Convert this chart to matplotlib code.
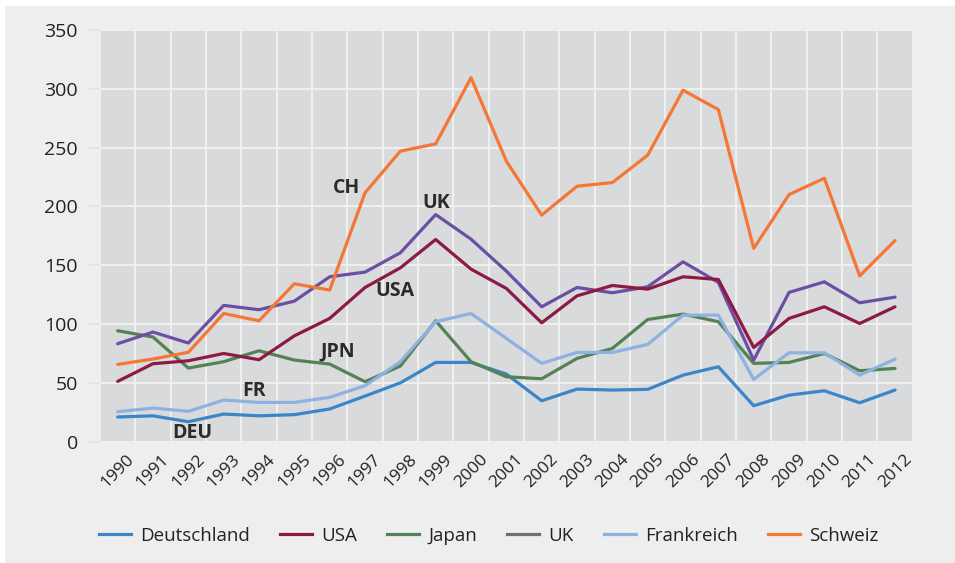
import matplotlib
matplotlib.use('Agg')
import matplotlib.pyplot as plt
from matplotlib.lines import Line2D
from matplotlib.patches import Rectangle
import numpy as np

plt.rcParams['font.family'] = ['Open Sans', 'DejaVu Sans']

jahre = [str(j) for j in range(1990, 2013)]

deutschland = [21, 22, 17, 23.5, 22, 23, 27.8, 38.8, 50, 67.4, 67.4, 57.5, 34.8, 44.7, 43.9,
               44.5, 56.6, 63.7, 30.6, 39.6, 43.3, 33.1, 43.9]
usa = [51.3, 66.3, 68.8, 75, 69.7, 90, 104.8, 131.1, 147.8, 171.9, 146.7, 130.3, 101.1, 124, 132.8,
       129.7, 140.2, 137.9, 80.1, 104.8, 114.7, 100.5, 114.7]
japan = [94.3, 89, 62.6, 68, 77.3, 69.4, 66, 51, 64.3, 102.8, 68, 55.2, 53.5, 70.8, 79.3,
         103.9, 108.5, 102, 66.6, 67.4, 75, 60.3, 62.3]
uk = [83.3, 93.2, 83.9, 115.9, 112.2, 119.5, 140.2, 144.2, 160.6, 193.1, 172.2, 145, 114.7, 131.1, 126.6,
      131.7, 152.9, 135.4, 69.4, 126.9, 135.9, 118.1, 122.9]
frankreich = [25.5, 28.6, 25.8, 35.4, 33.4, 33.4, 37.7, 47.6, 68, 102, 109, 87.8, 66.6, 75.9, 75.9,
              82.7, 107.6, 107.6, 53, 75.6, 75.6, 56.6, 70.2]
schweiz = [65.7, 70.3, 76, 109, 102.8, 134.3, 128.9, 211.6, 247, 253.2, 309.5, 238.5, 192.6, 217.2, 220.3,
           243.6, 298.8, 282.4, 164.3, 210.1, 224, 141, 171]

namen = ['Deutschland', 'USA', 'Japan', 'UK', 'Frankreich', 'Schweiz']
reihen = [deutschland, usa, japan, uk, frankreich, schweiz]
farben = ['#3a86c8', '#8c1a45', '#548255', '#6c4fa3', '#8db2e2', '#f47735']
legendenfarben = ['#3a86c8', '#8c1a45', '#548255', '#707070', '#8db2e2', '#f47735']
zeichnungsfolge = [1, 5, 2, 3, 4, 6]

# Kurzlabels im Diagramm (x-Index, Wert)
kurz = ['CH', 'UK', 'USA', 'JPN', 'FR', 'DEU']
kurz_x = [6.47, 9.03, 7.84, 6.23, 3.85, 2.1]
kurz_y = [215.5, 202.6, 127.9, 77, 43.5, 7.5]

fig = plt.figure(figsize=(9.55, 5.63), dpi=100, facecolor='white')
fig.patches.append(Rectangle((5 / 955, 0), 1, 1 - 6 / 563, transform=fig.transFigure,
                             facecolor='#eeeeee', edgecolor='none', zorder=-5))
ax = fig.add_axes([100 / 955, 1 - 441.7 / 563, 812.7 / 955, 411.7 / 563])
ax.set_facecolor('#d9dadc')

x = np.arange(len(jahre))
for name, werte, farbe, z in zip(namen, reihen, farben, zeichnungsfolge):
    ax.plot(x, werte, color=farbe, lw=2.3, zorder=3 + z * 0.1, solid_capstyle='round')

for t, tx, ty in zip(kurz, kurz_x, kurz_y):
    ax.text(tx, ty, t, fontsize=14, fontweight='bold', color='#2b2b2b', ha='center', va='center', zorder=5)

ax.set_xlim(-0.5, len(jahre) - 0.5)
ax.set_ylim(0, 350)
ax.set_yticks(np.arange(0, 351, 50))
ax.set_xticks(x)
ax.set_xticklabels(jahre, rotation=45, ha='center', va='top')
ax.set_xticks(np.arange(-0.5, len(jahre), 1), minor=True)
ax.grid(which='minor', axis='x', color='#f2f2f2', lw=1.3, zorder=1)
ax.grid(which='major', axis='y', color='#f2f2f2', lw=1.3, zorder=1)
ax.tick_params(axis='x', which='both', length=0, pad=7, labelsize=12.5, labelcolor='#222222')
ax.tick_params(axis='y', length=8, width=1.3, color='#e2e2e2', pad=8, labelsize=14, labelcolor='#222222')
for s in ax.spines.values():
    s.set_visible(False)

griffe = [Line2D([0], [0], color=c, lw=2.3) for c in legendenfarben]
fig.legend(griffe, namen, loc='center', bbox_to_anchor=(0.512, 1 - 536 / 563), ncol=6,
           frameon=False, fontsize=13.5, handlelength=1.7, handletextpad=0.5, columnspacing=1.6,
           labelcolor='#222222')

fig.savefig('out.png', dpi=100, facecolor=fig.get_facecolor())
